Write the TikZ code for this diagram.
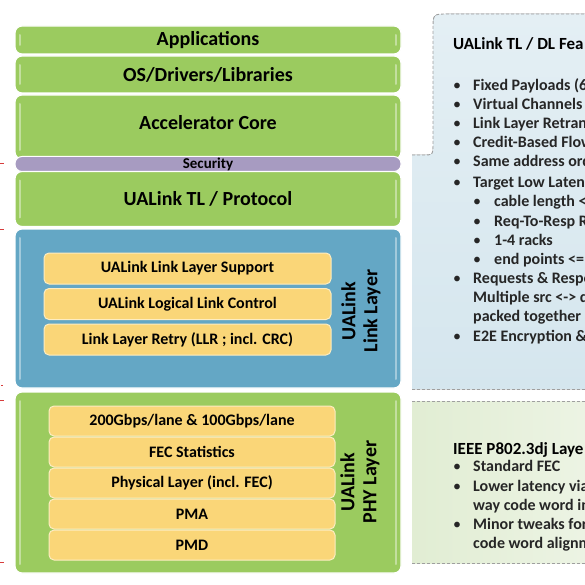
\documentclass[tikz,border=0pt]{standalone}
\usepackage{fontspec}
\setmainfont{Carlito}
\usepackage{xcolor}
\usepackage{tikz}
\usetikzlibrary{positioning, calc}
\definecolor{LayerGreen}{RGB}{155,203,95}
\definecolor{LinkBlue}{RGB}{100,167,197}
\definecolor{SecPurple}{RGB}{167,155,193}
\definecolor{SubYellow}{RGB}{250,214,120}
\definecolor{PanelBlueTop}{RGB}{228,239,244}
\definecolor{PanelBlue}{RGB}{213,230,238}
\definecolor{PanelGreenL}{RGB}{225,237,211}
\definecolor{PanelGreenR}{RGB}{237,244,229}
\definecolor{MarkRed}{RGB}{215,60,60}
\tikzset{
    layerbox/.style={
        draw=white, line width=1.2pt, fill=LayerGreen, rounded corners=7pt,
        inner sep=0pt, minimum width=386pt,
        font=\fontsize{20}{22}\selectfont\bfseries,
        path picture={
            \draw[white, opacity=0.4, line width=2pt, line cap=round]
                ($(path picture bounding box.north west)+(5,9)$) -- ($(path picture bounding box.south west)+(5,-9)$);
            \draw[white, opacity=0.4, line width=2pt, line cap=round]
                ($(path picture bounding box.north east)+(-5,9)$) -- ($(path picture bounding box.south east)+(-5,-9)$);
        }
    },
    layerlabel/.style={
        inner sep=0pt, font=\fontsize{20}{22}\selectfont\bfseries
    },
    secbox/.style={
        draw=white, line width=1pt, fill=SecPurple, rounded corners=7pt,
        inner sep=0pt, minimum width=386pt, minimum height=15pt,
        font=\fontsize{15}{16}\selectfont\bfseries
    },
    sublayer/.style={
        draw=white!55!SubYellow, line width=1pt, fill=SubYellow, rounded corners=5pt,
        inner sep=0pt, minimum width=287pt,
        font=\fontsize{16}{18}\selectfont\bfseries
    },
    sidetext/.style={
        rotate=90, align=center, inner sep=0pt,
        font=\fontsize{20}{22}\selectfont\bfseries
    },
    feathead/.style={
        anchor=west, inner sep=0pt, text height=12pt, text depth=3pt,
        font=\fontsize{17}{20}\selectfont\bfseries
    },
    featitem/.style={
        anchor=west, inner sep=0pt, text height=11pt, text depth=3pt, text=black!85,
        font=\fontsize{16}{19}\selectfont\bfseries
    },
    featdot/.style={
        inner sep=0pt, text height=11pt, text depth=3pt, text=black!85,
        font=\fontsize{16}{19}\selectfont
    },
    panelline/.style={
        gray!75, line width=0.9pt, dash pattern=on 3pt off 2pt
    },
    markline/.style={
        MarkRed, line width=0.8pt
    }
}

\begin{document}
\begin{tikzpicture}[x=1pt, y=-1pt]
    \useasboundingbox (0,0) rectangle (585,585);
    \clip (0,0) rectangle (585,585);

    % feature panels on the right
    \fill[top color=PanelBlueTop, bottom color=PanelBlue] (412,389) -- (412,155) -- (423,155) .. controls (433,155) .. (433,145) -- (433,29) .. controls (433,14) .. (448,14) -- (600,14) -- (600,389) -- cycle;
    \draw[panelline] (412,155) -- (423,155) .. controls (433,155) .. (433,145) -- (433,29) .. controls (433,14) .. (448,14) -- (600,14);
    \draw[panelline] (412,389) -- (600,389);
    \fill[left color=PanelGreenL, right color=PanelGreenR] (412,401) rectangle (600,563);
    \draw[panelline] (412,401) -- (600,401);
    \draw[panelline] (412,563) -- (600,563);

    \foreach \y in {163,229,400,562}
        \draw[markline] (0,\y) -- (4,\y);
    \draw[markline] (1,385) -- (2.5,385);

    % layer stack
    \node[layerbox, minimum height=28pt] (app) at (208,40) {Applications};
    \node[layerbox, minimum height=37pt] (os) at (208,74.5) {OS/Drivers/Libraries};
    \node[layerbox, minimum height=64pt] (acc) at (208,127) {};
    \node[layerlabel] (acclbl) at (208,123) {Accelerator Core};
    \node[layerbox, minimum height=55pt] (tl) at (208,199) {UALink TL / Protocol};
    \node[secbox] (sec) at (208,164) {Security};

    \node[layerbox, fill=LinkBlue, minimum height=159pt] (link) at (208,308.5) {};
    \foreach \txt [count=\i, evaluate=\i as \y using 233+35.5*\i] in
        {UALink Link Layer Support, UALink Logical Link Control, Link Layer Retry (LLR ; incl. CRC)}
        \node[sublayer, minimum height=31pt] (ll\i) at (187.5,\y) {\txt};
    \node[sidetext] (linkname) at (361,311) {UALink\\Link Layer};

    \node[layerbox, minimum height=181pt] (phy) at (208,482.5) {};
    \foreach \txt [count=\i, evaluate=\i as \y using 390+31*\i] in
        {200Gbps/lane \& 100Gbps/lane, FEC Statistics, Physical Layer (incl. FEC), PMA, PMD}
        \node[sublayer, minimum width=286pt, minimum height=30pt] (pl\i) at (192,\y) {\txt};
    \node[sidetext] (phyname) at (360,482) {UALink\\PHY Layer};

    % TL / DL features
    \node[feathead] (tlhead) at (453,45) {UALink TL / DL Fea};
    \foreach \y/\txt [count=\i] in {87/Fixed Payloads (6, 106/Virtual Channels, 125/Link Layer Retran,
        144/Credit-Based Flow, 163/Same address ord, 183/Target Low Laten, 279/Requests \& Respo,
        337/E2E Encryption \&}{
        \node[featdot] (tldot\i) at (457,\y) {\textbullet};
        \node[featitem] (tlitem\i) at (473,\y) {\txt};
    }
    \foreach \y/\txt [count=\i] in {202/cable length  <, 222/Req-To-Resp R, 241/1-4 racks, 260/end points <=}{
        \node[featdot] (tlsubdot\i) at (477,\y) {\textbullet};
        \node[featitem] (tlsub\i) at (494,\y) {\txt};
    }
    \node[featitem] (tlmore1) at (473,298) {Multiple src <-> d};
    \node[featitem] (tlmore2) at (473,317) {packed together};

    % PHY features
    \node[feathead] (phyhead) at (453,450) {IEEE P802.3dj Laye};
    \foreach \y/\txt [count=\i] in {467/Standard FEC, 487/Lower latency via, 525/Minor tweaks for}{
        \node[featdot] (phydot\i) at (457,\y) {\textbullet};
        \node[featitem] (phyitem\i) at (473,\y) {\txt};
    }
    \node[featitem] (phymore1) at (473,506) {way code word in};
    \node[featitem] (phymore2) at (473,544) {code word alignm};
\end{tikzpicture}
\end{document}
